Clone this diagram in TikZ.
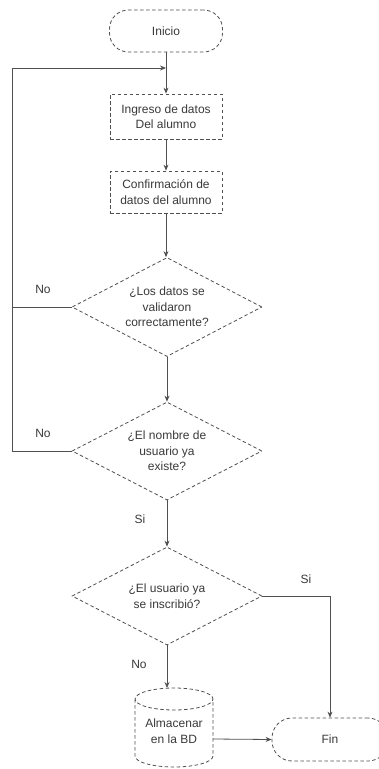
\documentclass[tikz,border=0pt]{standalone}
\usepackage{fontspec}
\setmainfont{Liberation Sans}
\usetikzlibrary{shapes.geometric,arrows.meta}
\definecolor{ln}{HTML}{505050}
\definecolor{tx}{HTML}{3A3A3A}
\begin{document}
\begin{tikzpicture}[x=1pt,y=-1pt,
  font=\fontsize{12}{15.5}\selectfont,
  every node/.style={text=tx},
  brd/.style={draw=ln,line width=0.8pt,dash pattern=on 3.5pt off 2.5pt,fill=white},
  term/.style={brd,rectangle,rounded corners=19pt,minimum width=113pt,minimum height=42pt,inner sep=0pt},
  proc/.style={brd,rectangle,minimum width=112pt,minimum height=43pt,inner sep=0pt,align=center},
  dec/.style={brd,diamond,aspect=2,inner sep=0pt,minimum width=190pt,minimum height=99pt,align=center},
  conn/.style={draw=ln,line width=0.8pt},
  arr/.style={conn,-{Stealth[length=6pt,width=5pt]}},
  lbl/.style={inner sep=0pt}
]
\useasboundingbox (0,0) rectangle (378,769);
\fill[white] (0,0) rectangle (378,769);

\node[term] (inicio) at (166,31) {Inicio};
\node[proc,minimum height=45pt] (ingreso) at (166,116.5) {Ingreso de datos\\Del alumno};
\node[proc,minimum height=42pt] (confirm) at (166,192) {Confirmación de\\datos del alumno};
\node[dec] (d1) at (167,307) {¿Los datos se\\validaron\\correctamente?};
\node[dec,minimum height=98pt] (d2) at (167,451) {¿El nombre de\\usuario ya\\existe?};
\node[dec,minimum height=98pt] (d3) at (167,596) {¿El usuario ya\\se inscribió?};

% cylinder
\draw[brd] (135,699) -- (135,756)
  arc[start angle=180,end angle=0,x radius=39,y radius=11] -- (213,699)
  arc[start angle=0,end angle=-180,x radius=39,y radius=11]
  arc[start angle=180,end angle=0,x radius=39,y radius=11];
\node[align=center,inner sep=0pt] (cyl) at (174,731) {Almacenar\\en la BD};
\coordinate (cyltop) at (167,688);
\coordinate (cylright) at (213,739);

\node[term,minimum width=116pt,minimum height=43pt,rounded corners=20pt] (fin) at (330,739.5) {Fin};

% loop
\coordinate (lp) at (12,68);
\coordinate (mj) at (166,68);
\draw[conn] (d1.west) -- (d1.west -| lp);
\draw[arr] (d2.west) -| (lp) -- (mj);

% main flow
\draw[arr] (inicio) -- (ingreso);
\draw[arr] (ingreso) -- (confirm);
\draw[arr] (confirm.south) -- (confirm.south |- d1.north);
\draw[arr] (d1.south) -- (d2.north);
\draw[arr] (d2.south) -- (d3.north);
\draw[arr] (d3.south) -- (cyltop);
\draw[arr] (cylright) -- (fin.west);
\draw[arr] (d3.east) -| (fin.north);

% labels
\node[lbl] (no1) at (43,289) {No};
\node[lbl] (no2) at (43,433) {No};
\node[lbl] (si1) at (140,519) {Si};
\node[lbl] (si2) at (306,579) {Si};
\node[lbl] (no3) at (139,664) {No};
\end{tikzpicture}
\end{document}
